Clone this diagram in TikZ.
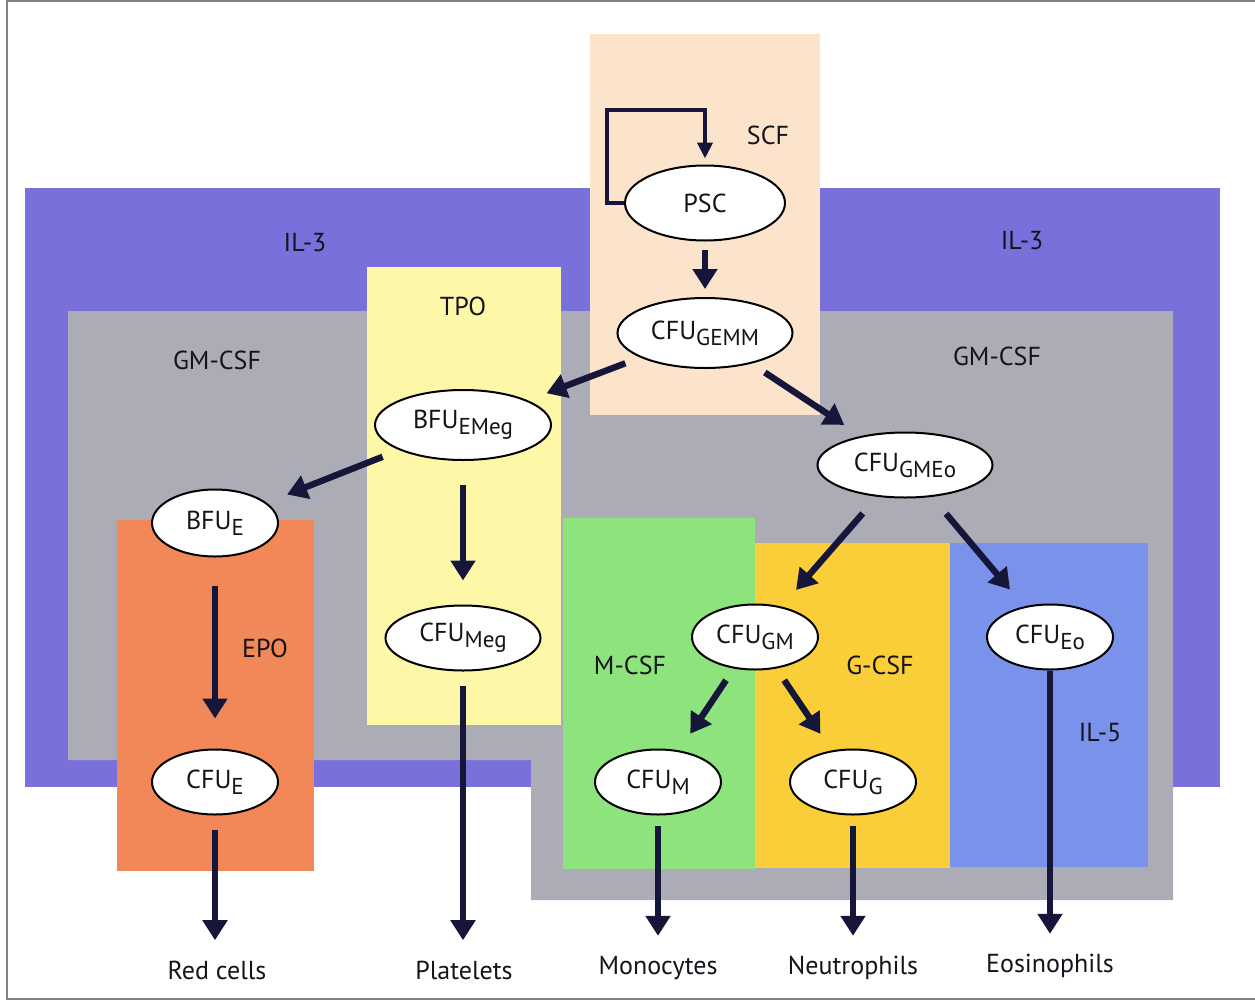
\documentclass[tikz,border=0pt]{standalone}
\usepackage{fontspec}
\setmainfont{PT Sans}
\usetikzlibrary{shapes.geometric,arrows.meta}
\definecolor{il3c}{RGB}{122,112,220}
\definecolor{gmc}{RGB}{172,172,182}
\definecolor{scfc}{RGB}{252,228,204}
\definecolor{tpoc}{RGB}{252,248,168}
\definecolor{epoc}{RGB}{242,136,88}
\definecolor{mcsfc}{RGB}{142,228,124}
\definecolor{gcsfc}{RGB}{250,206,56}
\definecolor{il5c}{RGB}{122,146,234}
\definecolor{navyc}{RGB}{22,22,58}
\definecolor{framec}{RGB}{130,130,130}
\definecolor{txtc}{RGB}{20,20,26}
\newcommand\lo[1]{\raisebox{-0.45ex}{\fontsize{11.5}{12}\selectfont #1}}
\tikzset{
  cell/.style={ellipse, draw=black, line width=1pt, fill=white, inner sep=0pt,
    minimum width=63pt, minimum height=32.5pt, font=\fontsize{13}{15}\selectfont, text=txtc},
  flow/.style={draw=navyc, line width=3.2pt, -{Triangle[length=10pt,width=12pt]}},
  loopline/.style={draw=navyc, line width=2pt, -{Triangle[length=8pt,width=7.5pt]}},
  lbl/.style={inner sep=0pt, font=\fontsize{13}{15}\selectfont, text=txtc},
}
\begin{document}
\begin{tikzpicture}[x=0.5pt,y=-0.5pt]
\useasboundingbox (0,0) rectangle (1255,1002);
% frame
\draw[framec, line width=1.2pt] (1255,1.2) -- (7,1.2) -- (7,999) -- (1255,999);
% cytokine regions
\fill[il3c] (25,188) rectangle (1220,787);
\fill[gmc] (68,311) -- (1173,311) -- (1173,900) -- (531,900) -- (531,760) -- (68,760) -- cycle;
\fill[scfc] (590,34) rectangle (820,415);
\fill[tpoc] (367,267) rectangle (561,725);
\fill[epoc] (117,520) rectangle (314,871);
\fill[mcsfc] (563,518) rectangle (755,869);
\fill[gcsfc] (755,543) rectangle (950,868);
\fill[il5c] (950,543) rectangle (1148,867);
% region labels
\node[lbl] (scf) at (768,135) {SCF};
\node[lbl] (il3a) at (305,243) {IL-3};
\node[lbl] (il3b) at (1022,241) {IL-3};
\node[lbl] (tpo) at (463,306) {TPO};
\node[lbl] (gma) at (217,360) {GM-CSF};
\node[lbl] (gmb) at (997,356) {GM-CSF};
\node[lbl] (epo) at (265,648) {EPO};
\node[lbl] (mcsf) at (630,665) {M-CSF};
\node[lbl] (gcsf) at (880,665) {G-CSF};
\node[lbl] (il5) at (1100,733) {IL-5};
% cells
\node[cell, minimum width=80pt, minimum height=37.5pt] (PSC) at (705,203) {PSC};
\node[cell, minimum width=87.5pt, minimum height=35pt] (GEMM) at (705,333) {CFU\lo{GEMM}};
\node[cell, minimum width=88pt, minimum height=35pt] (EMeg) at (463,425) {BFU\lo{EMeg}};
\node[cell, minimum width=87.5pt] (GMEo) at (905,465) {CFU\lo{GMEo}};
\node[cell, minimum height=33.5pt] (BFUE) at (215,523) {BFU\lo{E}};
\node[cell, minimum width=77.5pt] (Meg) at (463,638) {CFU\lo{Meg}};
\node[cell] (GM) at (755,637) {CFU\lo{GM}};
\node[cell] (Eo) at (1050,637) {CFU\lo{Eo}};
\node[cell] (CFUE) at (215,782) {CFU\lo{E}};
\node[cell] (M) at (658,782) {CFU\lo{M}};
\node[cell] (G) at (853,782) {CFU\lo{G}};
% outputs
\node[lbl] (red) at (217,970) {Red cells};
\node[lbl] (plt) at (464,970) {Platelets};
\node[lbl] (mono) at (658,968) {Monocytes};
\node[lbl] (neu) at (853,968) {Neutrophils};
\node[lbl] (eos) at (1050,966) {Eosinophils};
% self renewal loop
\coordinate (lp) at (607,110);
\draw[loopline, shorten >=3pt] (PSC.west) -| (lp) -| (PSC.north);
% lineage arrows
\draw[flow, shorten <=4pt, shorten >=4pt] (PSC) -- (GEMM);
\draw[flow, shorten <=8pt, shorten >=10pt] (GEMM) -- (EMeg);
\draw[flow, shorten <=8pt, shorten >=10pt] (GEMM) -- (GMEo);
\draw[flow, shorten <=9pt, shorten >=11pt] (EMeg) -- (BFUE);
\draw[flow, shorten <=12pt, shorten >=12pt] (EMeg) -- (Meg);
\draw[flow, shorten <=14pt, shorten >=15pt] (BFUE) -- (CFUE);
\draw[flow, shorten <=11pt, shorten >=11pt] (GMEo) -- (GM);
\draw[flow, shorten <=11pt, shorten >=11pt] (GMEo) -- (Eo);
\draw[flow, shorten <=7pt, shorten >=10pt] (GM) -- (M);
\draw[flow, shorten <=7pt, shorten >=10pt] (GM) -- (G);
\draw[flow, shorten <=7pt, shorten >=10pt] (CFUE) -- (CFUE |- red.north);
\draw[flow, shorten <=7pt, shorten >=10pt] (Meg) -- (Meg |- plt.north);
\draw[flow, shorten <=5pt, shorten >=10pt] (M) -- (M |- mono.north);
\draw[flow, shorten <=5pt, shorten >=10pt] (G) -- (G |- neu.north);
\draw[flow, shorten >=10pt] (Eo) -- (Eo |- eos.north);
\end{tikzpicture}
\end{document}
